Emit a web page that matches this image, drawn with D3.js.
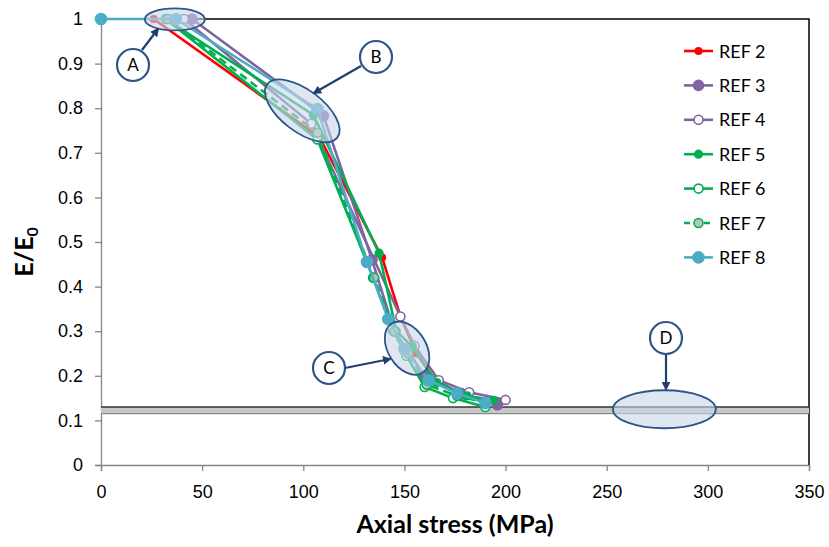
<!DOCTYPE html>
<html>
<head>
<meta charset="utf-8">
<script src="https://cdn.jsdelivr.net/npm/d3@7"></script>
<style>
  html, body { margin: 0; padding: 0; background: #fff; }
  svg { display: block; font-family: Lato, "Open Sans", sans-serif; }
</style>
</head>
<body>
<svg id="chart" width="829" height="547"></svg>
<script>
// Normalised modulus E/E0 versus axial stress for seven reference tests
const seriesNames = ["REF 2", "REF 3", "REF 4", "REF 5", "REF 6", "REF 7", "REF 8"];

const ref2 = [[26,1],[108,0.735],[139,0.465],[148,0.333],[156,0.25],[165,0.19],[180,0.155],[195,0.14]];
const ref3 = [[45,1],[110,0.783],[134,0.46],[145,0.3],[160,0.2],[178,0.16],[196,0.135]];
const ref4 = [[41,1],[104,0.765],[148,0.333],[155,0.267],[167,0.19],[182,0.163],[200,0.146]];
const ref5 = [[32,1],[105,0.785],[137.5,0.475],[146,0.3],[154,0.265],[166,0.185],[181,0.155],[194,0.145]];
const ref6 = [[32,1],[107,0.73],[134.5,0.42],[144,0.305],[151,0.245],[160,0.175],[174,0.15],[190,0.13]];
const ref7 = [[33,1],[107,0.745],[135,0.42],[145,0.3],[152,0.25],[161,0.18],[176,0.155],[190,0.14]];
const ref8 = [[0,1],[37,1],[107,0.798],[131.5,0.455],[142,0.327],[150,0.26],[162,0.19],[176,0.161],[190,0.139]];

const xTicks = [0, 50, 100, 150, 200, 250, 300, 350];
const yTicks = [0, 0.1, 0.2, 0.3, 0.4, 0.5, 0.6, 0.7, 0.8, 0.9, 1];

// Residual-stiffness band
const bandLow = 0.115, bandHigh = 0.13;

const styles = [
  { color: "#ff0000", r: 3.2, fill: "#ff0000", dash: null },
  { color: "#8064a2", r: 5,   fill: "#8064a2", dash: null },
  { color: "#8064a2", r: 4.5, fill: "#ffffff", dash: null },
  { color: "#00b050", r: 3.8, fill: "#00b050", dash: null },
  { color: "#00b050", r: 4.5, fill: "#ffffff", dash: null },
  { color: "#00b050", r: 4.5, fill: "#bfbfbf", dash: "8,5" },
  { color: "#4bacc6", r: 5.5, fill: "#4bacc6", dash: null }
];
const allData = [ref2, ref3, ref4, ref5, ref6, ref7, ref8];

const svg = d3.select("#chart");
const x = d3.scaleLinear().domain([0, 350]).range([101, 809]);
const y = d3.scaleLinear().domain([0, 1]).range([465, 19]);

// Axes
const axisColor = "#868686";
const gx = svg.append("g").attr("transform", `translate(0,${y(0)})`)
  .call(d3.axisBottom(x).tickValues(xTicks).tickSizeOuter(0).tickSize(6).tickPadding(14).tickFormat(d3.format("d")));
const gy = svg.append("g").attr("transform", `translate(${x(0)},0)`)
  .call(d3.axisLeft(y).tickValues(yTicks).tickSizeOuter(0).tickSize(6).tickPadding(12).tickFormat(d => d === 0 || d === 1 ? d3.format("d")(d) : d3.format(".1f")(d)));
[gx, gy].forEach(g => {
  g.selectAll("path, line").attr("stroke", axisColor).attr("stroke-width", 1.3);
  g.selectAll("text").attr("fill", "#000").style("font-size", "18px");
});

// Frame on top and right
svg.append("path")
  .attr("d", `M${x(0)},${y(1)}H${x(350)}V${y(0)}`)
  .attr("fill", "none").attr("stroke", "#000").attr("stroke-width", 1.5);

// Band
svg.append("rect")
  .attr("x", x(0)).attr("width", x(350) - x(0))
  .attr("y", y(bandHigh)).attr("height", y(bandLow) - y(bandHigh))
  .attr("fill", "#c8c8c8");
svg.append("line").attr("x1", x(0)).attr("x2", x(350)).attr("y1", y(bandHigh)).attr("y2", y(bandHigh))
  .attr("stroke", "#333").attr("stroke-width", 1.3);
svg.append("line").attr("x1", x(0)).attr("x2", x(350)).attr("y1", y(bandLow)).attr("y2", y(bandLow))
  .attr("stroke", "#777").attr("stroke-width", 1);

// Series
const line = d3.line().x(d => x(d[0])).y(d => y(d[1]));
allData.forEach((data, i) => {
  const s = styles[i];
  const g = svg.append("g");
  g.append("path").datum(data).attr("d", line)
    .attr("fill", "none").attr("stroke", s.color).attr("stroke-width", 2.6)
    .attr("stroke-dasharray", s.dash);
  g.selectAll("circle").data(data).join("circle")
    .attr("cx", d => x(d[0])).attr("cy", d => y(d[1])).attr("r", s.r)
    .attr("fill", s.fill).attr("stroke", s.color).attr("stroke-width", 1.6);
});

// Highlight ellipses
const ellipseFill = "rgba(200,214,234,0.6)";
const navy = "#2e5589";
const ellipses = [
  { cx: x(36.5), cy: y(0.999), rx: 30, ry: 11, rot: 0 },
  { cx: x(99.5), cy: y(0.794), rx: 44, ry: 21, rot: 37 },
  { cx: x(151.3), cy: y(0.262), rx: 29, ry: 19, rot: 58 },
  { cx: x(278.5), cy: y(0.125), rx: 51.5, ry: 19, rot: 0 }
];
svg.selectAll("ellipse.hl").data(ellipses).join("ellipse")
  .attr("class", "hl")
  .attr("transform", d => `translate(${d.cx},${d.cy}) rotate(${d.rot})`)
  .attr("rx", d => d.rx).attr("ry", d => d.ry)
  .attr("fill", ellipseFill).attr("stroke", navy).attr("stroke-width", 1.8);

// Callout labels with arrows
svg.append("defs").append("marker")
  .attr("id", "arrow").attr("viewBox", "0 0 10 10").attr("refX", 8).attr("refY", 5)
  .attr("markerWidth", 4).attr("markerHeight", 4).attr("orient", "auto")
  .append("path").attr("d", "M0,0L10,5L0,10z").attr("fill", "#1f3f6e");

const callouts = [
  { label: "A", cx: 133, cy: 65, ax: 142, ay: 50, bx: 158, by: 29 },
  { label: "B", cx: 376, cy: 57, ax: 361, ay: 66, bx: 314, by: 93 },
  { label: "C", cx: 329, cy: 368, ax: 345, ay: 368, bx: 390, by: 359 },
  { label: "D", cx: 666, cy: 338, ax: 666, ay: 354, bx: 666, by: 389 }
];
callouts.forEach(c => {
  svg.append("line").attr("x1", c.ax).attr("y1", c.ay).attr("x2", c.bx).attr("y2", c.by)
    .attr("stroke", "#1f3f6e").attr("stroke-width", 2.2).attr("marker-end", "url(#arrow)");
  svg.append("circle").attr("cx", c.cx).attr("cy", c.cy).attr("r", 16)
    .attr("fill", "#fff").attr("stroke", navy).attr("stroke-width", 2.2);
  svg.append("text").attr("x", c.cx).attr("y", c.cy + 6).attr("text-anchor", "middle")
    .style("font-size", "17px").text(c.label);
});

// Legend
const legend = svg.append("g");
seriesNames.forEach((name, i) => {
  const s = styles[i];
  const ly = 51 + i * 34.4;
  legend.append("line").attr("x1", 684).attr("x2", 713).attr("y1", ly).attr("y2", ly)
    .attr("stroke", s.color).attr("stroke-width", 2.6).attr("stroke-dasharray", s.dash ? "6,4" : null);
  legend.append("circle").attr("cx", 698.5).attr("cy", ly).attr("r", s.r)
    .attr("fill", s.fill).attr("stroke", s.color).attr("stroke-width", 1.6);
  legend.append("text").attr("x", 719).attr("y", ly + 6.5).style("font-size", "18px").text(name);
});

// Axis titles
svg.append("text").attr("x", 455).attr("y", 533).attr("text-anchor", "middle")
  .style("font-size", "25px").style("font-weight", "bold").text("Axial stress (MPa)");
const yt = svg.append("text").attr("transform", "translate(33,252) rotate(-90)")
  .attr("text-anchor", "middle").style("font-size", "25px").style("font-weight", "bold");
yt.append("tspan").text("E/E");
yt.append("tspan").attr("dy", 5).style("font-size", "16px").text("0");
</script>
</body>
</html>
